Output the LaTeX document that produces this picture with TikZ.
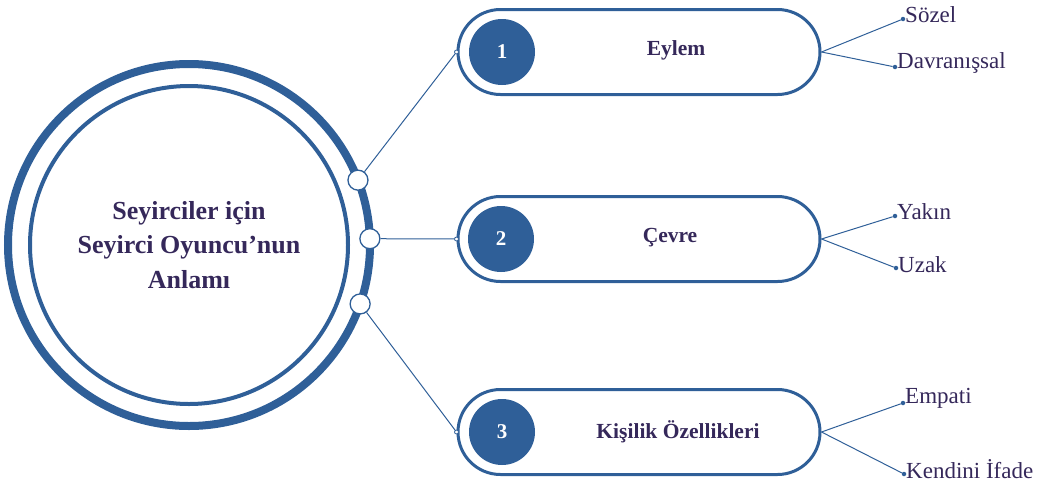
\documentclass[tikz,border=0pt]{standalone}
\usepackage{fontspec}
\setmainfont{Liberation Serif}
\usetikzlibrary{shapes.misc,calc}
\definecolor{mblue}{HTML}{2F5F98}
\definecolor{mtext}{HTML}{35285A}
\tikzset{
  pill/.style={rounded rectangle, draw=mblue, line width=3pt, fill=white, minimum width=362pt, minimum height=85pt, inner sep=0pt},
  numdisc/.style={circle, fill=mblue, minimum size=66pt, inner sep=0pt, text=white, font=\fontsize{21}{24}\selectfont\bfseries},
  pilltext/.style={text=mtext, font=\fontsize{21.5}{25}\selectfont\bfseries},
  joint/.style={circle, draw=mblue, fill=white, line width=1.3pt, minimum size=20pt, inner sep=0pt},
  tiny/.style={circle, draw=mblue, fill=white, line width=0.8pt, minimum size=4pt, inner sep=0pt},
  dot/.style={circle, fill=mblue, minimum size=4.5pt, inner sep=0pt},
  conn/.style={draw=mblue, line width=1pt},
  leaf/.style={anchor=west, text=mtext, inner sep=1pt, font=\fontsize{23}{26}\selectfont},
}
\begin{document}
\begin{tikzpicture}[x=1pt,y=-1pt]
\useasboundingbox (0,0) rectangle (1041,488);
% central circle
\coordinate (c) at (189,245);
\draw[mblue, line width=8pt] (c) circle (181);
\draw[mblue, line width=4pt] (c) circle (159);
\node[text=mtext, align=center, font=\fontsize{26}{34.5}\selectfont\bfseries] (title) at (c) {Seyirciler için\\Seyirci Oyuncu’nun\\Anlamı};
\node[joint] (j1) at ($(c)+(-21:181)$) {};
\node[joint] (j2) at ($(c)+(-2:181)$) {};
\node[joint] (j3) at ($(c)+(19:181)$) {};
% pills
\node[pill] (p1) at (639,52) {};
\node[pill] (p2) at (639,239) {};
\node[pill] (p3) at (639,432) {};
\node[numdisc] (n1) at (502,52) {1};
\node[numdisc] (n2) at (501,239) {2};
\node[numdisc] (n3) at (502,432) {3};
\node[pilltext] (t1) at (676,50) {Eylem};
\node[pilltext] (t2) at (670,238) {Çevre};
\node[pilltext] (t3) at (678,432) {Kişilik Özellikleri};
\node[tiny] (k1) at (p1.west) {};
\node[tiny] (k2) at (p2.west) {};
\node[tiny] (k3) at (p3.west) {};
\draw[conn] (j1) -- (k1);
\draw[conn] (j2) -- (k2);
\draw[conn] (j3) -- (k3);
% leaves
\node[dot] (d11) at (903,19) {};
\node[dot] (d12) at (895,67) {};
\node[dot] (d21) at (895,216) {};
\node[dot] (d22) at (896,268) {};
\node[dot] (d31) at (903,403) {};
\node[dot] (d32) at (904,474) {};
\draw[conn] (p1.east) -- (d11);
\draw[conn] (p1.east) -- (d12);
\draw[conn] (p2.east) -- (d21);
\draw[conn] (p2.east) -- (d22);
\draw[conn] (p3.east) -- (d31);
\draw[conn] (p3.east) -- (d32);
\node[leaf] (l11) at ($(d11)+(1,-4)$) {Sözel};
\node[leaf] (l12) at ($(d12)+(1,-4)$) {Davranışsal};
\node[leaf] (l21) at ($(d21)+(1,-4)$) {Yakın};
\node[leaf] (l22) at ($(d22)+(1,-3)$) {Uzak};
\node[leaf] (l31) at ($(d31)+(1,-5)$) {Empati};
\node[leaf] (l32) at ($(d32)+(1,-5)$) {Kendini İfade};
\end{tikzpicture}
\end{document}
